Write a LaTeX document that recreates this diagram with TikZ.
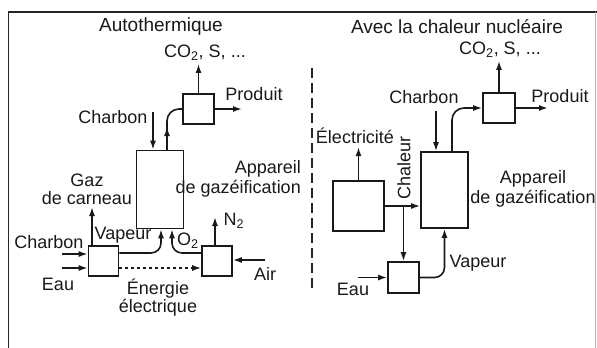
\documentclass[tikz,border=0pt]{standalone}
\usepackage{fontspec}
\setmainfont{Liberation Sans}
\usetikzlibrary{arrows.meta}

\begin{document}
\begin{tikzpicture}[x=1pt,y=-1pt]
        \tikzset{
            unit/.style={draw=black!90, line width=1.6pt, inner sep=0pt},
            flow/.style={draw=black!90, line width=1.6pt, -{Latex[length=9pt,width=6pt]}},
            pipe/.style={draw=black!90, line width=1.6pt},
            label text/.style={inner sep=0pt, text=black!90, font=\fontsize{18}{18}\selectfont},
            title text/.style={inner sep=0pt, text=black!90, font=\fontsize{19}{19}\selectfont},
        }
        \useasboundingbox (0,0) rectangle (597,348);

        % frame
        \draw[line width=1.4pt, black!85] (8.5,348) -- (8.5,12) -- (597,12);
        \draw[line width=0.8pt, black!30] (595,12) -- (595,348);
        \draw[line width=1.4pt, black!85, dash pattern=on 10pt off 5pt] (312,68) -- (312,292);

        % autothermique
        \node[title text] (titleL) at (161,27) {Autothermique};
        \node[label text] (gasesL) at (205,53) {CO\textsubscript{2}, S, ...};
        \node[label text] (prodL) at (254,94) {Produit};
        \node[label text] (coalL) at (113,117) {Charbon};
        \node[label text, align=right, anchor=east, font=\fontsize{18}{20}\selectfont] (appL) at (301,179) {Appareil\hspace{8pt}\\de gazéification};
        \node[label text, align=center] (fumeL) at (87,189) {Gaz\\de carneau};
        \node[label text] (steamtxtL) at (123,235) {Vapeur};
        \node[label text] (oxyL) at (188,241) {O\textsubscript{2}};
        \node[label text] (nitroL) at (234,221) {N\textsubscript{2}};
        \node[label text] (coalinL) at (49,242) {Charbon};
        \node[label text] (waterL) at (58,284) {Eau};
        \node[label text] (airtxtL) at (265,274) {Air};
        \node[label text, align=center] (powerL) at (158,298) {Énergie\\électrique};

        \node[unit, minimum width=31pt, minimum height=30pt] (purL) at (198.5,109) {};
        \node[unit, minimum width=47pt, minimum height=78pt] (gasL) at (160,189.5) {};
        \node[unit, minimum size=30pt] (steamL) at (103.5,261) {};
        \node[unit, minimum size=30pt] (airL) at (217,261) {};

        \coordinate (prodLend) at (242,109);
        \coordinate (coalLbeg) at (153,112);
        \coordinate (fumeLend) at (92,207);
        \coordinate (nitroLend) at (215,217);
        \coordinate (airLbeg) at (265,260);
        \coordinate (coalinLbeg) at (62,254);
        \coordinate (waterLbeg) at (62,268);

        \draw[flow, shorten >=3pt] (purL.north) -- (purL.north |- gasesL.south);
        \draw[flow] (purL.east) -- (prodLend);
        \draw[flow] (coalLbeg) -- (coalLbeg |- gasL.north);
        \draw[pipe, rounded corners=12pt] (gasL.north -| 167,0) -- (167,109) -- (purL.west);
        \draw[flow] (gasL.north -| 167,0) -- (167,127);
        \draw[flow] (steamL.north -| fumeLend) -- (fumeLend);
        \draw[flow] (coalinLbeg) -- (coalinLbeg -| steamL.west);
        \draw[flow] (waterLbeg) -- (waterLbeg -| steamL.west);
        \draw[flow, rounded corners=10pt] (steamL.east |- 0,253) -- (161,253) -- (gasL.south -| 161,0);
        \draw[flow, rounded corners=10pt] (airL.west |- 0,253) -- (172,253) -- (gasL.south -| 172,0);
        \draw[flow, dashed] (steamL.east |- 0,268) -- (airL.west |- 0,268);
        \draw[flow] (airL.north -| nitroLend) -- (nitroLend);
        \draw[flow] (airLbeg) -- (airLbeg -| airL.east);

        % chaleur nucleaire
        \node[title text] (titleR) at (457,27) {Avec la chaleur nucléaire};
        \node[label text] (gasesR) at (500,50) {CO\textsubscript{2}, S, ...};
        \node[label text] (prodR) at (560,96) {Produit};
        \node[label text] (coalR) at (424,97) {Charbon};
        \node[label text] (elecR) at (355,136) {Électricité};
        \node[label text, rotate=90] (heatR) at (404,168) {Chaleur};
        \node[label text, align=center, font=\fontsize{18}{20}\selectfont] (appR) at (533,189) {Appareil\\de gazéification};
        \node[label text] (steamtxtR) at (478,263) {Vapeur};
        \node[label text] (waterR) at (353,289) {Eau};

        \node[unit, minimum width=32pt, minimum height=30pt] (purR) at (499,108) {};
        \node[unit, minimum width=47pt, minimum height=76pt] (gasR) at (444.5,190) {};
        \node[unit, minimum width=51pt, minimum height=50pt] (reactR) at (358.5,206) {};
        \node[unit, minimum size=31pt] (steamR) at (403.5,277.5) {};

        \coordinate (prodRend) at (548,108);
        \coordinate (coalRbeg) at (436,111);
        \coordinate (waterRbeg) at (358,277.5);

        \draw[flow, shorten >=3pt] (purR.north) -- (purR.north |- gasesR.south);
        \draw[flow] (purR.east) -- (prodRend);
        \draw[flow] (coalRbeg) -- (coalRbeg |- gasR.north);
        \draw[flow, rounded corners=12pt] (gasR.north -| 452,0) -- (452,108) -- (purR.west);
        \draw[flow, shorten >=3pt] (reactR.north) -- (reactR.north |- elecR.south);
        \draw[flow] (reactR.east) -- (reactR.east -| gasR.west);
        \draw[flow] (reactR.east -| steamR.north) -- (steamR.north);
        \draw[flow] (waterRbeg) -- (steamR.west);
        \draw[flow, rounded corners=10pt] (steamR.east) -- (gasR.south |- steamR.east) -- (gasR.south);
\end{tikzpicture}
\end{document}
